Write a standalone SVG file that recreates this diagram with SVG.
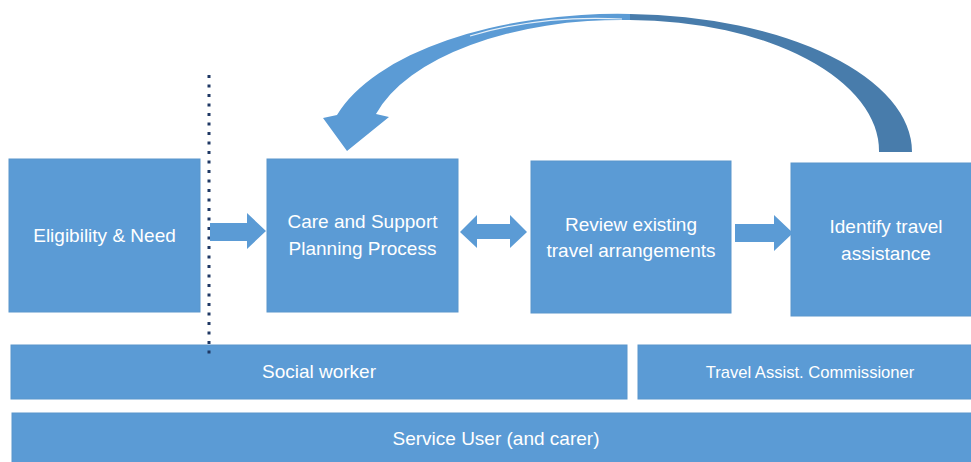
<svg xmlns="http://www.w3.org/2000/svg" width="971" height="462" viewBox="0 0 971 462">
  <style>
    .box { fill: #5B9BD5; stroke: #5A96CC; stroke-width: 1; }
    .lbl { fill: #FFFFFF; font-family: "Liberation Sans", Arial, sans-serif; font-size: 19px; text-anchor: middle; }
    .lbl-sm { font-size: 16.6px; }
    .blk { fill: #5B9BD5; }
  </style>

  <rect width="971" height="462" fill="#FFFFFF"/>

  <!-- process boxes -->
  <g id="eligibility-need">
    <rect class="box" x="9" y="159" width="191" height="153"/>
    <text class="lbl" x="104.5" y="242">Eligibility &amp; Need</text>
  </g>
  <g id="care-support-planning">
    <rect class="box" x="267" y="159" width="191" height="153"/>
    <text class="lbl" x="362.5" y="228">Care and Support</text>
    <text class="lbl" x="362.5" y="255">Planning Process</text>
  </g>
  <g id="review-travel">
    <rect class="box" x="531" y="161" width="200" height="152"/>
    <text class="lbl" x="631" y="231">Review existing</text>
    <text class="lbl" x="631" y="257">travel arrangements</text>
  </g>
  <g id="identify-travel">
    <rect class="box" x="791" y="163" width="192" height="153"/>
    <text class="lbl" x="886" y="233">Identify travel</text>
    <text class="lbl" x="886" y="260">assistance</text>
  </g>

  <!-- role bars -->
  <g id="social-worker">
    <rect class="box" x="11" y="345" width="616" height="54"/>
    <text class="lbl" x="319" y="378">Social worker</text>
  </g>
  <g id="travel-assist-commissioner">
    <rect class="box" x="638" y="345" width="345" height="54"/>
    <text class="lbl lbl-sm" x="810" y="378">Travel Assist. Commissioner</text>
  </g>
  <g id="service-user">
    <rect class="box" x="12" y="413" width="971" height="55"/>
    <text class="lbl" x="496" y="445">Service User (and carer)</text>
  </g>

  <!-- connectors -->
  <g id="connectors">
    <!-- eligibility boundary -->
    <line x1="209" y1="75" x2="209" y2="356" stroke="#1F3864" stroke-width="3" stroke-dasharray="3 6.5"/>

    <!-- block arrows between steps -->
    <polygon class="blk" points="210,223 247,223 247,213 266,231 247,249 247,241 210,241"/>
    <polygon class="blk" points="460,232 477,215 477,224 510,224 510,215 527,232 510,248 510,239 477,239 477,248"/>
    <polygon class="blk" points="735,224 774,224 774,215 793,233 774,251 774,242 735,242"/>

    <!-- feedback loop: rear half of the curved arrow -->
    <path fill="#487CAB" d="M 912 152 A 290 138 0 0 0 630 14 L 630 20 A 250 131 0 0 1 879 152 Z"/>
    <!-- feedback loop: front half with arrowhead -->
    <path fill="#5B9BD5" d="M 630 14 A 292 140 0 0 0 337 115 L 323 118 L 347 151 L 389 117 L 376 114 A 255 128 0 0 1 630 20 Z"/>
    <path fill="none" stroke="#FFFFFF" stroke-width="1.2" stroke-opacity="0.85" d="M 622 19 A 250 128 0 0 0 470 36"/>
  </g>
</svg>
